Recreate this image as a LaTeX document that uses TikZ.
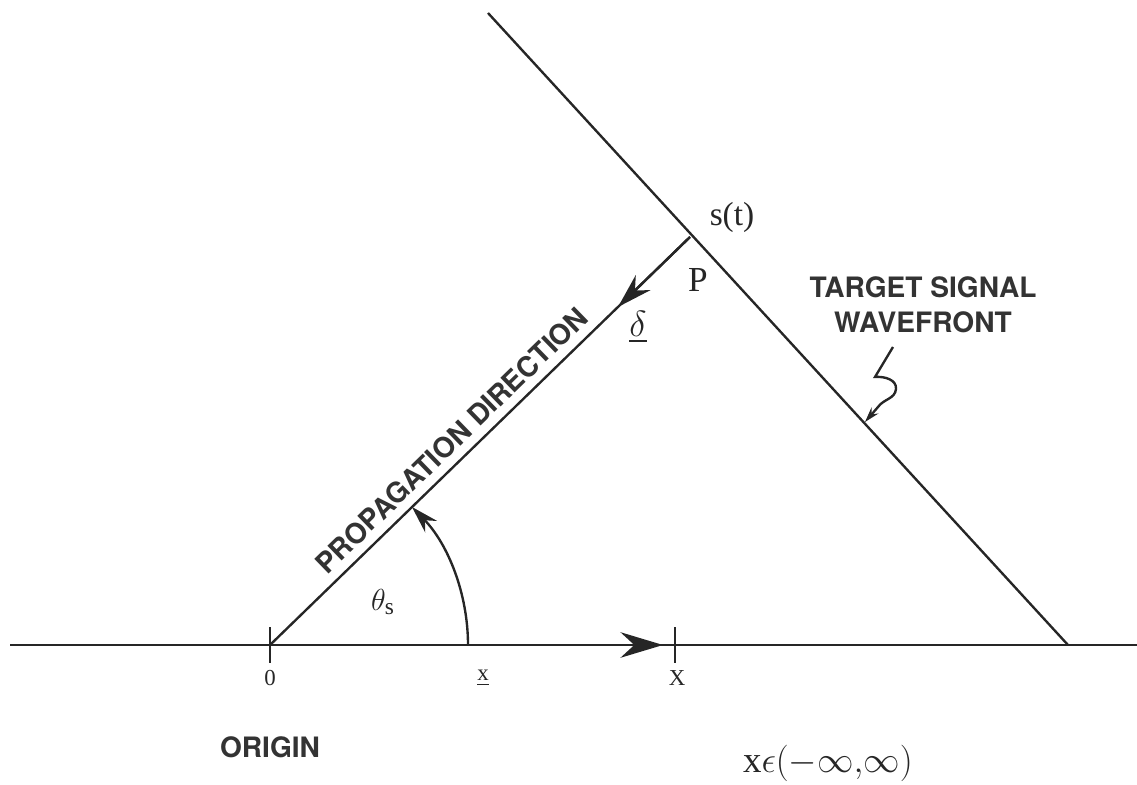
\documentclass[tikz,border=0pt]{standalone}
\usepackage{amsmath,amssymb}
\usepackage{fontspec}
\setmainfont{Liberation Serif}
\newfontfamily\helv{TeX Gyre Heros}
\usetikzlibrary{arrows.meta}
\tikzset{
  legenda/.style={font=\helv\bfseries\fontsize{16}{20}\selectfont, text=black!80, align=center},
  rotulo/.style={font=\fontsize{#1}{#1}\selectfont, text=black!85, inner sep=1pt},
  rotulo/.default=19,
  linha/.style={line width=1.35pt, draw=black!85},
  seta/.style={linha, -{Stealth[length=#1, width=0.6*#1]}},
  seta/.default=0.4cm,
}
\begin{document}
\begin{tikzpicture}[x=0.02cm, y=0.02cm]
  \useasboundingbox (0,0) rectangle (1137,785);
  % eixo x
  \coordinate (ax0) at (10,140);
  \coordinate (ax1) at (1137,140);
  \coordinate (O) at (270,140);
  \coordinate (xa) at (663,140);
  \coordinate (xt) at (675,140);
  \draw[linha] (ax0) -- (ax1);
  \draw[seta=0.85cm] (O) -- (xa);
  \draw[linha] ([yshift=-10]O) -- ([yshift=10]O);
  \draw[linha] ([yshift=-10]xt) -- ([yshift=10]xt);
  \node[rotulo=13] (n0) at (270,107) {0};
  \node[rotulo=13] (nx) at (483,107) {$\underline{\mathrm{x}}$};
  \node[rotulo=13] (nX) at (677,107) {X};
  \node[legenda] (orig) at (270,38) {ORIGIN};
  \node[rotulo=21] (dom) at (828,22) {x$\epsilon(-\infty{,}\infty)$};
  % frente de onda
  \coordinate (wf0) at (488,772);
  \coordinate (wf1) at (1068,140);
  \coordinate (P) at (690,548);
  \draw[linha] (wf0) -- (wf1);
  \node[rotulo] (st) at (732,568) {s(t)};
  \node[rotulo=20] (np) at (698,505) {P};
  \node[legenda] (tsw) at (923,480) {TARGET SIGNAL\\WAVEFRONT};
  \coordinate (wfp) at (865,363);
  \draw[seta=0.3cm] (893,438) -- (875,408) to[out=5,in=85] (896,396)
    to[out=-95,in=55] (878,378) -- (wfp);
  % direcao de propagacao
  \coordinate (pd) at (618,478);
  \draw[linha] (O) -- (P);
  \draw[seta=0.7cm] (P) -- (pd);
  \node[rotulo=20] (nd) at (638,458) {$\underline{\delta}$};
  \path (O) -- (P) node[legenda, pos=0.466, sloped, above=2pt] (pdir) {PROPAGATION DIRECTION};
  % angulo
  \draw[seta=0.55cm] (468,140) arc[start angle=0, end angle=44.2, radius=198];
  \node[rotulo] (th) at (383,183) {$\theta_{\mathrm{s}}$};
\end{tikzpicture}
\end{document}
